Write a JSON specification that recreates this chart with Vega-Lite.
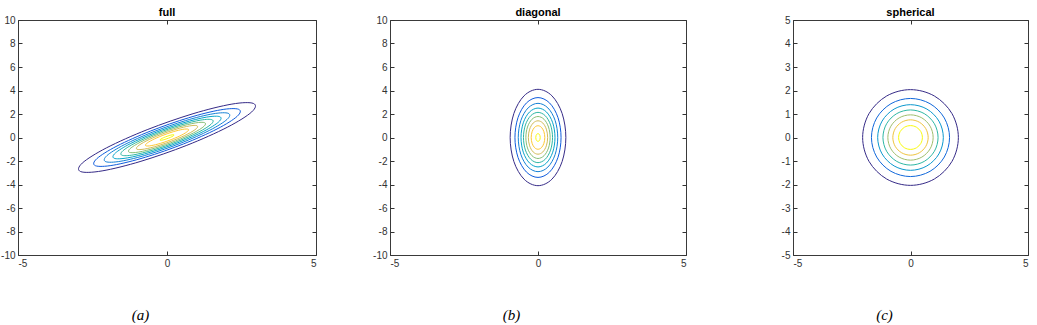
{
"$schema": "https://vega.github.io/schema/vega-lite/v6.json",
"padding": {"left": 0, "top": 6, "right": 0, "bottom": 0},
"autosize": {"type": "pad"},
"config": {
  "font": "Liberation Sans",
  "view": {"stroke": "#3a3a3a", "strokeWidth": 1},
  "axis": {"grid": false, "domain": false, "labelFont": "Liberation Sans", "labelFontSize": 10, "labelColor": "#333333", "tickColor": "#333333", "tickSize": -4, "labelPadding": 7, "labelExpr": "replace(datum.label, '\u2212', '-')"},
  "title": {"fontSize": 11, "fontWeight": "bold", "color": "#000000", "offset": -3, "frame": "group", "anchor": "middle", "font": "Liberation Sans"}
},
"datasets": {
"full": [
{"lv":0.02,"i":0,"x":2.899,"y":2.899},{"lv":0.02,"i":1,"x":2.843,"y":2.178},{"lv":0.02,"i":2,"x":2.025,"y":0.874},{"lv":0.02,"i":3,"x":0.665,"y":-0.665},{"lv":0.02,"i":4,"x":-0.874,"y":-2.025},{"lv":0.02,"i":5,"x":-2.178,"y":-2.843},{"lv":0.02,"i":6,"x":-2.899,"y":-2.899},{"lv":0.02,"i":7,"x":-2.843,"y":-2.178},{"lv":0.02,"i":8,"x":-2.025,"y":-0.874},{"lv":0.02,"i":9,"x":-0.665,"y":0.665},{"lv":0.02,"i":10,"x":0.874,"y":2.025},{"lv":0.02,"i":11,"x":2.178,"y":2.843},
{"lv":0.04,"i":0,"x":2.402,"y":2.402},{"lv":0.04,"i":1,"x":2.356,"y":1.805},{"lv":0.04,"i":2,"x":1.678,"y":0.724},{"lv":0.04,"i":3,"x":0.551,"y":-0.551},{"lv":0.04,"i":4,"x":-0.724,"y":-1.678},{"lv":0.04,"i":5,"x":-1.805,"y":-2.356},{"lv":0.04,"i":6,"x":-2.402,"y":-2.402},{"lv":0.04,"i":7,"x":-2.356,"y":-1.805},{"lv":0.04,"i":8,"x":-1.678,"y":-0.724},{"lv":0.04,"i":9,"x":-0.551,"y":0.551},{"lv":0.04,"i":10,"x":0.724,"y":1.678},{"lv":0.04,"i":11,"x":1.805,"y":2.356},
{"lv":0.06,"i":0,"x":2.056,"y":2.056},{"lv":0.06,"i":1,"x":2.017,"y":1.545},{"lv":0.06,"i":2,"x":1.437,"y":0.620},{"lv":0.06,"i":3,"x":0.472,"y":-0.472},{"lv":0.06,"i":4,"x":-0.620,"y":-1.437},{"lv":0.06,"i":5,"x":-1.545,"y":-2.017},{"lv":0.06,"i":6,"x":-2.056,"y":-2.056},{"lv":0.06,"i":7,"x":-2.017,"y":-1.545},{"lv":0.06,"i":8,"x":-1.437,"y":-0.620},{"lv":0.06,"i":9,"x":-0.472,"y":0.472},{"lv":0.06,"i":10,"x":0.620,"y":1.437},{"lv":0.06,"i":11,"x":1.545,"y":2.017},
{"lv":0.08,"i":0,"x":1.771,"y":1.771},{"lv":0.08,"i":1,"x":1.736,"y":1.330},{"lv":0.08,"i":2,"x":1.237,"y":0.534},{"lv":0.08,"i":3,"x":0.406,"y":-0.406},{"lv":0.08,"i":4,"x":-0.534,"y":-1.237},{"lv":0.08,"i":5,"x":-1.330,"y":-1.736},{"lv":0.08,"i":6,"x":-1.771,"y":-1.771},{"lv":0.08,"i":7,"x":-1.736,"y":-1.330},{"lv":0.08,"i":8,"x":-1.237,"y":-0.534},{"lv":0.08,"i":9,"x":-0.406,"y":0.406},{"lv":0.08,"i":10,"x":0.534,"y":1.237},{"lv":0.08,"i":11,"x":1.330,"y":1.736},
{"lv":0.10,"i":0,"x":1.512,"y":1.512},{"lv":0.10,"i":1,"x":1.483,"y":1.136},{"lv":0.10,"i":2,"x":1.057,"y":0.456},{"lv":0.10,"i":3,"x":0.347,"y":-0.347},{"lv":0.10,"i":4,"x":-0.456,"y":-1.057},{"lv":0.10,"i":5,"x":-1.136,"y":-1.483},{"lv":0.10,"i":6,"x":-1.512,"y":-1.512},{"lv":0.10,"i":7,"x":-1.483,"y":-1.136},{"lv":0.10,"i":8,"x":-1.057,"y":-0.456},{"lv":0.10,"i":9,"x":-0.347,"y":0.347},{"lv":0.10,"i":10,"x":0.456,"y":1.057},{"lv":0.10,"i":11,"x":1.136,"y":1.483},
{"lv":0.12,"i":0,"x":1.263,"y":1.263},{"lv":0.12,"i":1,"x":1.239,"y":0.949},{"lv":0.12,"i":2,"x":0.882,"y":0.381},{"lv":0.12,"i":3,"x":0.290,"y":-0.290},{"lv":0.12,"i":4,"x":-0.381,"y":-0.882},{"lv":0.12,"i":5,"x":-0.949,"y":-1.239},{"lv":0.12,"i":6,"x":-1.263,"y":-1.263},{"lv":0.12,"i":7,"x":-1.239,"y":-0.949},{"lv":0.12,"i":8,"x":-0.882,"y":-0.381},{"lv":0.12,"i":9,"x":-0.290,"y":0.290},{"lv":0.12,"i":10,"x":0.381,"y":0.882},{"lv":0.12,"i":11,"x":0.949,"y":1.239},
{"lv":0.14,"i":0,"x":1.004,"y":1.004},{"lv":0.14,"i":1,"x":0.985,"y":0.755},{"lv":0.14,"i":2,"x":0.702,"y":0.303},{"lv":0.14,"i":3,"x":0.230,"y":-0.230},{"lv":0.14,"i":4,"x":-0.303,"y":-0.702},{"lv":0.14,"i":5,"x":-0.755,"y":-0.985},{"lv":0.14,"i":6,"x":-1.004,"y":-1.004},{"lv":0.14,"i":7,"x":-0.985,"y":-0.755},{"lv":0.14,"i":8,"x":-0.702,"y":-0.303},{"lv":0.14,"i":9,"x":-0.230,"y":0.230},{"lv":0.14,"i":10,"x":0.303,"y":0.702},{"lv":0.14,"i":11,"x":0.755,"y":0.985},
{"lv":0.16,"i":0,"x":0.708,"y":0.708},{"lv":0.16,"i":1,"x":0.694,"y":0.532},{"lv":0.16,"i":2,"x":0.495,"y":0.213},{"lv":0.16,"i":3,"x":0.162,"y":-0.162},{"lv":0.16,"i":4,"x":-0.213,"y":-0.495},{"lv":0.16,"i":5,"x":-0.532,"y":-0.694},{"lv":0.16,"i":6,"x":-0.708,"y":-0.708},{"lv":0.16,"i":7,"x":-0.694,"y":-0.532},{"lv":0.16,"i":8,"x":-0.495,"y":-0.213},{"lv":0.16,"i":9,"x":-0.162,"y":0.162},{"lv":0.16,"i":10,"x":0.213,"y":0.495},{"lv":0.16,"i":11,"x":0.532,"y":0.694},
{"lv":0.18,"i":0,"x":0.232,"y":0.232},{"lv":0.18,"i":1,"x":0.227,"y":0.174},{"lv":0.18,"i":2,"x":0.162,"y":0.070},{"lv":0.18,"i":3,"x":0.053,"y":-0.053},{"lv":0.18,"i":4,"x":-0.070,"y":-0.162},{"lv":0.18,"i":5,"x":-0.174,"y":-0.227},{"lv":0.18,"i":6,"x":-0.232,"y":-0.232},{"lv":0.18,"i":7,"x":-0.227,"y":-0.174},{"lv":0.18,"i":8,"x":-0.162,"y":-0.070},{"lv":0.18,"i":9,"x":-0.053,"y":0.053},{"lv":0.18,"i":10,"x":0.070,"y":0.162},{"lv":0.18,"i":11,"x":0.174,"y":0.227}
],
"diag": [
{"lv":0.02,"i":0,"x":0.941,"y":0},{"lv":0.02,"i":1,"x":0.815,"y":2.050},{"lv":0.02,"i":2,"x":0.470,"y":3.550},{"lv":0.02,"i":3,"x":0,"y":4.100},{"lv":0.02,"i":4,"x":-0.470,"y":3.550},{"lv":0.02,"i":5,"x":-0.815,"y":2.050},{"lv":0.02,"i":6,"x":-0.941,"y":0},{"lv":0.02,"i":7,"x":-0.815,"y":-2.050},{"lv":0.02,"i":8,"x":-0.470,"y":-3.550},{"lv":0.02,"i":9,"x":0,"y":-4.100},{"lv":0.02,"i":10,"x":0.470,"y":-3.550},{"lv":0.02,"i":11,"x":0.815,"y":-2.050},
{"lv":0.04,"i":0,"x":0.779,"y":0},{"lv":0.04,"i":1,"x":0.675,"y":1.698},{"lv":0.04,"i":2,"x":0.390,"y":2.942},{"lv":0.04,"i":3,"x":0,"y":3.397},{"lv":0.04,"i":4,"x":-0.390,"y":2.942},{"lv":0.04,"i":5,"x":-0.675,"y":1.698},{"lv":0.04,"i":6,"x":-0.779,"y":0},{"lv":0.04,"i":7,"x":-0.675,"y":-1.698},{"lv":0.04,"i":8,"x":-0.390,"y":-2.942},{"lv":0.04,"i":9,"x":0,"y":-3.397},{"lv":0.04,"i":10,"x":0.390,"y":-2.942},{"lv":0.04,"i":11,"x":0.675,"y":-1.698},
{"lv":0.06,"i":0,"x":0.667,"y":0},{"lv":0.06,"i":1,"x":0.578,"y":1.454},{"lv":0.06,"i":2,"x":0.334,"y":2.518},{"lv":0.06,"i":3,"x":0,"y":2.908},{"lv":0.06,"i":4,"x":-0.334,"y":2.518},{"lv":0.06,"i":5,"x":-0.578,"y":1.454},{"lv":0.06,"i":6,"x":-0.667,"y":0},{"lv":0.06,"i":7,"x":-0.578,"y":-1.454},{"lv":0.06,"i":8,"x":-0.334,"y":-2.518},{"lv":0.06,"i":9,"x":0,"y":-2.908},{"lv":0.06,"i":10,"x":0.334,"y":-2.518},{"lv":0.06,"i":11,"x":0.578,"y":-1.454},
{"lv":0.08,"i":0,"x":0.574,"y":0},{"lv":0.08,"i":1,"x":0.497,"y":1.252},{"lv":0.08,"i":2,"x":0.287,"y":2.169},{"lv":0.08,"i":3,"x":0,"y":2.504},{"lv":0.08,"i":4,"x":-0.287,"y":2.169},{"lv":0.08,"i":5,"x":-0.497,"y":1.252},{"lv":0.08,"i":6,"x":-0.574,"y":0},{"lv":0.08,"i":7,"x":-0.497,"y":-1.252},{"lv":0.08,"i":8,"x":-0.287,"y":-2.169},{"lv":0.08,"i":9,"x":0,"y":-2.504},{"lv":0.08,"i":10,"x":0.287,"y":-2.169},{"lv":0.08,"i":11,"x":0.497,"y":-1.252},
{"lv":0.10,"i":0,"x":0.491,"y":0},{"lv":0.10,"i":1,"x":0.425,"y":1.070},{"lv":0.10,"i":2,"x":0.245,"y":1.852},{"lv":0.10,"i":3,"x":0,"y":2.139},{"lv":0.10,"i":4,"x":-0.245,"y":1.852},{"lv":0.10,"i":5,"x":-0.425,"y":1.070},{"lv":0.10,"i":6,"x":-0.491,"y":0},{"lv":0.10,"i":7,"x":-0.425,"y":-1.070},{"lv":0.10,"i":8,"x":-0.245,"y":-1.852},{"lv":0.10,"i":9,"x":0,"y":-2.139},{"lv":0.10,"i":10,"x":0.245,"y":-1.852},{"lv":0.10,"i":11,"x":0.425,"y":-1.070},
{"lv":0.12,"i":0,"x":0.410,"y":0},{"lv":0.12,"i":1,"x":0.355,"y":0.893},{"lv":0.12,"i":2,"x":0.205,"y":1.547},{"lv":0.12,"i":3,"x":0,"y":1.786},{"lv":0.12,"i":4,"x":-0.205,"y":1.547},{"lv":0.12,"i":5,"x":-0.355,"y":0.893},{"lv":0.12,"i":6,"x":-0.410,"y":0},{"lv":0.12,"i":7,"x":-0.355,"y":-0.893},{"lv":0.12,"i":8,"x":-0.205,"y":-1.547},{"lv":0.12,"i":9,"x":0,"y":-1.786},{"lv":0.12,"i":10,"x":0.205,"y":-1.547},{"lv":0.12,"i":11,"x":0.355,"y":-0.893},
{"lv":0.14,"i":0,"x":0.326,"y":0},{"lv":0.14,"i":1,"x":0.282,"y":0.710},{"lv":0.14,"i":2,"x":0.163,"y":1.230},{"lv":0.14,"i":3,"x":0,"y":1.420},{"lv":0.14,"i":4,"x":-0.163,"y":1.230},{"lv":0.14,"i":5,"x":-0.282,"y":0.710},{"lv":0.14,"i":6,"x":-0.326,"y":0},{"lv":0.14,"i":7,"x":-0.282,"y":-0.710},{"lv":0.14,"i":8,"x":-0.163,"y":-1.230},{"lv":0.14,"i":9,"x":0,"y":-1.420},{"lv":0.14,"i":10,"x":0.163,"y":-1.230},{"lv":0.14,"i":11,"x":0.282,"y":-0.710},
{"lv":0.16,"i":0,"x":0.230,"y":0},{"lv":0.16,"i":1,"x":0.199,"y":0.501},{"lv":0.16,"i":2,"x":0.115,"y":0.867},{"lv":0.16,"i":3,"x":0,"y":1.001},{"lv":0.16,"i":4,"x":-0.115,"y":0.867},{"lv":0.16,"i":5,"x":-0.199,"y":0.501},{"lv":0.16,"i":6,"x":-0.230,"y":0},{"lv":0.16,"i":7,"x":-0.199,"y":-0.501},{"lv":0.16,"i":8,"x":-0.115,"y":-0.867},{"lv":0.16,"i":9,"x":0,"y":-1.001},{"lv":0.16,"i":10,"x":0.115,"y":-0.867},{"lv":0.16,"i":11,"x":0.199,"y":-0.501},
{"lv":0.18,"i":0,"x":0.075,"y":0},{"lv":0.18,"i":1,"x":0.065,"y":0.164},{"lv":0.18,"i":2,"x":0.038,"y":0.284},{"lv":0.18,"i":3,"x":0,"y":0.328},{"lv":0.18,"i":4,"x":-0.038,"y":0.284},{"lv":0.18,"i":5,"x":-0.065,"y":0.164},{"lv":0.18,"i":6,"x":-0.075,"y":0},{"lv":0.18,"i":7,"x":-0.065,"y":-0.164},{"lv":0.18,"i":8,"x":-0.038,"y":-0.284},{"lv":0.18,"i":9,"x":0,"y":-0.328},{"lv":0.18,"i":10,"x":0.038,"y":-0.284},{"lv":0.18,"i":11,"x":0.065,"y":-0.164}
],
"sph": [
{"lv":0.02,"i":0,"x":2.037,"y":0},{"lv":0.02,"i":1,"x":1.764,"y":1.018},{"lv":0.02,"i":2,"x":1.018,"y":1.764},{"lv":0.02,"i":3,"x":0,"y":2.037},{"lv":0.02,"i":4,"x":-1.018,"y":1.764},{"lv":0.02,"i":5,"x":-1.764,"y":1.018},{"lv":0.02,"i":6,"x":-2.037,"y":0},{"lv":0.02,"i":7,"x":-1.764,"y":-1.018},{"lv":0.02,"i":8,"x":-1.018,"y":-1.764},{"lv":0.02,"i":9,"x":0,"y":-2.037},{"lv":0.02,"i":10,"x":1.018,"y":-1.764},{"lv":0.02,"i":11,"x":1.764,"y":-1.018},
{"lv":0.04,"i":0,"x":1.662,"y":0},{"lv":0.04,"i":1,"x":1.439,"y":0.831},{"lv":0.04,"i":2,"x":0.831,"y":1.439},{"lv":0.04,"i":3,"x":0,"y":1.662},{"lv":0.04,"i":4,"x":-0.831,"y":1.439},{"lv":0.04,"i":5,"x":-1.439,"y":0.831},{"lv":0.04,"i":6,"x":-1.662,"y":0},{"lv":0.04,"i":7,"x":-1.439,"y":-0.831},{"lv":0.04,"i":8,"x":-0.831,"y":-1.439},{"lv":0.04,"i":9,"x":0,"y":-1.662},{"lv":0.04,"i":10,"x":0.831,"y":-1.439},{"lv":0.04,"i":11,"x":1.439,"y":-0.831},
{"lv":0.06,"i":0,"x":1.397,"y":0},{"lv":0.06,"i":1,"x":1.210,"y":0.698},{"lv":0.06,"i":2,"x":0.698,"y":1.210},{"lv":0.06,"i":3,"x":0,"y":1.397},{"lv":0.06,"i":4,"x":-0.698,"y":1.210},{"lv":0.06,"i":5,"x":-1.210,"y":0.698},{"lv":0.06,"i":6,"x":-1.397,"y":0},{"lv":0.06,"i":7,"x":-1.210,"y":-0.698},{"lv":0.06,"i":8,"x":-0.698,"y":-1.210},{"lv":0.06,"i":9,"x":0,"y":-1.397},{"lv":0.06,"i":10,"x":0.698,"y":-1.210},{"lv":0.06,"i":11,"x":1.210,"y":-0.698},
{"lv":0.08,"i":0,"x":1.173,"y":0},{"lv":0.08,"i":1,"x":1.016,"y":0.586},{"lv":0.08,"i":2,"x":0.586,"y":1.016},{"lv":0.08,"i":3,"x":0,"y":1.173},{"lv":0.08,"i":4,"x":-0.586,"y":1.016},{"lv":0.08,"i":5,"x":-1.016,"y":0.586},{"lv":0.08,"i":6,"x":-1.173,"y":0},{"lv":0.08,"i":7,"x":-1.016,"y":-0.586},{"lv":0.08,"i":8,"x":-0.586,"y":-1.016},{"lv":0.08,"i":9,"x":0,"y":-1.173},{"lv":0.08,"i":10,"x":0.586,"y":-1.016},{"lv":0.08,"i":11,"x":1.016,"y":-0.586},
{"lv":0.10,"i":0,"x":0.964,"y":0},{"lv":0.10,"i":1,"x":0.835,"y":0.482},{"lv":0.10,"i":2,"x":0.482,"y":0.835},{"lv":0.10,"i":3,"x":0,"y":0.964},{"lv":0.10,"i":4,"x":-0.482,"y":0.835},{"lv":0.10,"i":5,"x":-0.835,"y":0.482},{"lv":0.10,"i":6,"x":-0.964,"y":0},{"lv":0.10,"i":7,"x":-0.835,"y":-0.482},{"lv":0.10,"i":8,"x":-0.482,"y":-0.835},{"lv":0.10,"i":9,"x":0,"y":-0.964},{"lv":0.10,"i":10,"x":0.482,"y":-0.835},{"lv":0.10,"i":11,"x":0.835,"y":-0.482},
{"lv":0.12,"i":0,"x":0.752,"y":0},{"lv":0.12,"i":1,"x":0.651,"y":0.376},{"lv":0.12,"i":2,"x":0.376,"y":0.651},{"lv":0.12,"i":3,"x":0,"y":0.752},{"lv":0.12,"i":4,"x":-0.376,"y":0.651},{"lv":0.12,"i":5,"x":-0.651,"y":0.376},{"lv":0.12,"i":6,"x":-0.752,"y":0},{"lv":0.12,"i":7,"x":-0.651,"y":-0.376},{"lv":0.12,"i":8,"x":-0.376,"y":-0.651},{"lv":0.12,"i":9,"x":0,"y":-0.752},{"lv":0.12,"i":10,"x":0.376,"y":-0.651},{"lv":0.12,"i":11,"x":0.651,"y":-0.376},
{"lv":0.14,"i":0,"x":0.506,"y":0},{"lv":0.14,"i":1,"x":0.439,"y":0.253},{"lv":0.14,"i":2,"x":0.253,"y":0.439},{"lv":0.14,"i":3,"x":0,"y":0.506},{"lv":0.14,"i":4,"x":-0.253,"y":0.439},{"lv":0.14,"i":5,"x":-0.439,"y":0.253},{"lv":0.14,"i":6,"x":-0.506,"y":0},{"lv":0.14,"i":7,"x":-0.439,"y":-0.253},{"lv":0.14,"i":8,"x":-0.253,"y":-0.439},{"lv":0.14,"i":9,"x":0,"y":-0.506},{"lv":0.14,"i":10,"x":0.253,"y":-0.439},{"lv":0.14,"i":11,"x":0.439,"y":-0.253}
]
},
"hconcat": [
{
 "hconcat": [
 {
  "width": 298, "height": 235,
  "title": "full",
  "data": {"name": "full"},
  "layer": [
    {"mark": {"type": "line", "interpolate": "cardinal-closed", "strokeWidth": 1},
     "encoding": {
       "x": {"field": "x", "type": "quantitative", "scale": {"domain": [-5, 5], "nice": false, "zero": false},
             "axis": {"orient": "bottom", "values": [-5, 0, 5], "title": "(a)", "titleFont": "Liberation Serif", "titleFontStyle": "italic", "titleFontWeight": "normal", "titleFontSize": 15, "titleColor": "#000000", "titleX": 122, "titleY": 59, "titleBaseline": "middle", "titleAlign": "center"}},
       "y": {"field": "y", "type": "quantitative", "scale": {"domain": [-10, 10], "nice": false, "zero": false},
             "axis": {"orient": "left", "values": [-10, -8, -6, -4, -2, 0, 2, 4, 6, 8, 10], "title": null, "minExtent": 17, "maxExtent": 17}},
       "color": {"field": "lv", "type": "ordinal", "scale": {"domain": [0.02, 0.04, 0.06, 0.08, 0.1, 0.12, 0.14, 0.16, 0.18], "range": ["#352a87", "#0f5cdd", "#1481d6", "#06a4ca", "#2eb7a4", "#87bf77", "#d1bb59", "#fec832", "#f9fb0e"]}, "legend": null},
       "detail": {"field": "lv", "type": "nominal"},
       "order": {"field": "i", "type": "quantitative"}
     }},
    {"mark": {"type": "line", "strokeOpacity": 0},
     "encoding": {
       "x": {"field": "x", "type": "quantitative", "scale": {"domain": [-5, 5], "nice": false, "zero": false},
             "axis": {"orient": "top", "values": [-5, 0, 5], "labels": false, "title": null, "minExtent": 0, "maxExtent": 0}},
       "y": {"field": "y", "type": "quantitative", "scale": {"domain": [-10, 10], "nice": false, "zero": false},
             "axis": {"orient": "right", "values": [-10, -8, -6, -4, -2, 0, 2, 4, 6, 8, 10], "labels": false, "title": null, "minExtent": 0, "maxExtent": 0}},
       "detail": {"field": "lv", "type": "nominal"},
       "order": {"field": "i", "type": "quantitative"}
     }}
  ],
  "resolve": {"axis": {"x": "independent", "y": "independent"}}
 },
 {
  "width": 296, "height": 235,
  "title": "diagonal",
  "data": {"name": "diag"},
  "layer": [
    {"mark": {"type": "line", "interpolate": "cardinal-closed", "strokeWidth": 1},
     "encoding": {
       "x": {"field": "x", "type": "quantitative", "scale": {"domain": [-5, 5], "nice": false, "zero": false},
             "axis": {"orient": "bottom", "values": [-5, 0, 5], "title": "(b)", "titleFont": "Liberation Serif", "titleFontStyle": "italic", "titleFontWeight": "normal", "titleFontSize": 15, "titleColor": "#000000", "titleX": 121, "titleY": 59, "titleBaseline": "middle", "titleAlign": "center"}},
       "y": {"field": "y", "type": "quantitative", "scale": {"domain": [-10, 10], "nice": false, "zero": false},
             "axis": {"orient": "left", "values": [-10, -8, -6, -4, -2, 0, 2, 4, 6, 8, 10], "title": null, "minExtent": 17, "maxExtent": 17}},
       "color": {"field": "lv", "type": "ordinal", "scale": {"domain": [0.02, 0.04, 0.06, 0.08, 0.1, 0.12, 0.14, 0.16, 0.18], "range": ["#352a87", "#0f5cdd", "#1481d6", "#06a4ca", "#2eb7a4", "#87bf77", "#d1bb59", "#fec832", "#f9fb0e"]}, "legend": null},
       "detail": {"field": "lv", "type": "nominal"},
       "order": {"field": "i", "type": "quantitative"}
     }},
    {"mark": {"type": "line", "strokeOpacity": 0},
     "encoding": {
       "x": {"field": "x", "type": "quantitative", "scale": {"domain": [-5, 5], "nice": false, "zero": false},
             "axis": {"orient": "top", "values": [-5, 0, 5], "labels": false, "title": null, "minExtent": 0, "maxExtent": 0}},
       "y": {"field": "y", "type": "quantitative", "scale": {"domain": [-10, 10], "nice": false, "zero": false},
             "axis": {"orient": "right", "values": [-10, -8, -6, -4, -2, 0, 2, 4, 6, 8, 10], "labels": false, "title": null, "minExtent": 0, "maxExtent": 0}},
       "detail": {"field": "lv", "type": "nominal"},
       "order": {"field": "i", "type": "quantitative"}
     }}
  ],
  "resolve": {"axis": {"x": "independent", "y": "independent"}}
 }
 ],
 "spacing": 55
},
{
  "width": 235, "height": 235,
  "title": "spherical",
  "data": {"name": "sph"},
  "layer": [
    {"mark": {"type": "line", "interpolate": "cardinal-closed", "strokeWidth": 1},
     "encoding": {
       "x": {"field": "x", "type": "quantitative", "scale": {"domain": [-5, 5], "nice": false, "zero": false},
             "axis": {"orient": "bottom", "values": [-5, 0, 5], "title": "(c)", "titleFont": "Liberation Serif", "titleFontStyle": "italic", "titleFontWeight": "normal", "titleFontSize": 15, "titleColor": "#000000", "titleX": 91, "titleY": 59, "titleBaseline": "middle", "titleAlign": "center"}},
       "y": {"field": "y", "type": "quantitative", "scale": {"domain": [-5, 5], "nice": false, "zero": false},
             "axis": {"orient": "left", "values": [-5, -4, -3, -2, -1, 0, 1, 2, 3, 4, 5], "title": null, "minExtent": 12, "maxExtent": 12}},
       "color": {"field": "lv", "type": "ordinal", "scale": {"domain": [0.02, 0.04, 0.06, 0.08, 0.1, 0.12, 0.14], "range": ["#352a87", "#1168db", "#0b98ce", "#2eb7a4", "#a0be6d", "#efc43f", "#f9fb0e"]}, "legend": null},
       "detail": {"field": "lv", "type": "nominal"},
       "order": {"field": "i", "type": "quantitative"}
     }},
    {"mark": {"type": "line", "strokeOpacity": 0},
     "encoding": {
       "x": {"field": "x", "type": "quantitative", "scale": {"domain": [-5, 5], "nice": false, "zero": false},
             "axis": {"orient": "top", "values": [-5, 0, 5], "labels": false, "title": null, "minExtent": 0, "maxExtent": 0}},
       "y": {"field": "y", "type": "quantitative", "scale": {"domain": [-5, 5], "nice": false, "zero": false},
             "axis": {"orient": "right", "values": [-5, -4, -3, -2, -1, 0, 1, 2, 3, 4, 5], "labels": false, "title": null, "minExtent": 0, "maxExtent": 0}},
       "detail": {"field": "lv", "type": "nominal"},
       "order": {"field": "i", "type": "quantitative"}
     }}
  ],
  "resolve": {"axis": {"x": "independent", "y": "independent"}}
}
],
"spacing": 93,
"resolve": {"scale": {"x": "independent", "y": "independent", "color": "independent"}}
}
